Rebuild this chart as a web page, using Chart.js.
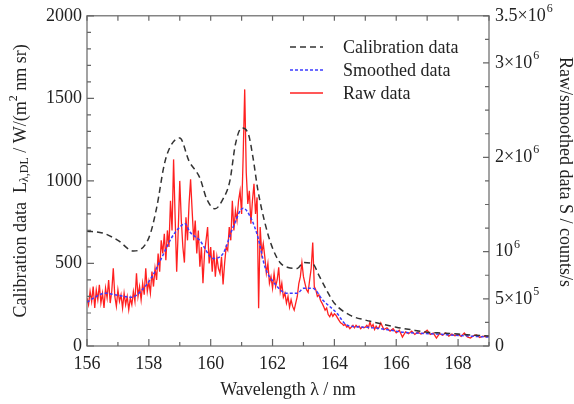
<!DOCTYPE html>
<html>
<head>
<meta charset="utf-8">
<script src="https://cdn.jsdelivr.net/npm/chart.js@4.4.1/dist/chart.umd.min.js"></script>
<style>
  html, body { margin: 0; padding: 0; background: #fff; }
  canvas { display: block; }
</style>
</head>
<body>
<canvas id="spec" width="574" height="404"></canvas>
<script>
// calibration data L (W/(m2 nm sr)), left axis
const calNm = [156, 156.5, 157, 157.5, 158, 158.25, 158.5, 158.7, 159.0, 159.3, 159.65, 159.87, 160.14, 160.4, 160.62, 160.8,
    161.0, 161.22, 161.37, 161.53, 161.76, 161.97, 162.24, 162.5, 162.8, 163.0, 163.3, 163.5, 163.8, 164.0, 164.5, 165,
    165.5, 166, 166.5, 167, 167.5, 168, 168.5, 169];
const calL = [695, 685, 640, 575, 655, 835, 1100, 1210, 1260, 1120, 1018, 891, 831, 891, 1000, 1222,
    1320, 1283, 1139, 940, 741, 608, 506, 476, 470, 505, 498, 428, 320, 259, 187, 157,
    135, 114, 98, 84, 78, 72, 66, 60];

// smoothed signal S, kcounts/s, right axis
const smoothNm = [156.0, 156.3, 156.58, 157.0, 157.44, 157.77, 158.09, 158.42, 158.74, 159.0, 159.17, 159.33, 159.65, 160.08,
    160.4, 160.72, 161.05, 161.34, 161.53, 161.76, 162.02, 162.47, 162.8, 163.0, 163.3, 163.63, 164.08, 164.4, 164.93,
    165.38, 166.22, 167.32, 168.39, 169.0];
const smoothK = [464, 525, 560, 537, 516, 590, 728, 938, 1150, 1260, 1297, 1208, 1118, 928,
    980, 1255, 1461, 1328, 1150, 833, 683, 558, 558, 611, 611, 485, 348, 222, 200,
    189, 147, 126, 105, 95];

// raw signal S, kcounts/s, right axis
const rawNm = [
    156.00, 156.05, 156.10, 156.15, 156.20, 156.25, 156.30, 156.35, 156.40, 156.45,
    156.50, 156.55, 156.60, 156.65, 156.70, 156.75, 156.80, 156.85, 156.90, 156.95,
    157.00, 157.05, 157.10, 157.15, 157.20, 157.25, 157.30, 157.35, 157.40, 157.45,
    157.50, 157.55, 157.60, 157.65, 157.70, 157.75, 157.80, 157.85, 157.90, 157.95,
    158.00, 158.05, 158.10, 158.15, 158.20, 158.25, 158.30, 158.35, 158.40, 158.45,
    158.50, 158.55, 158.60, 158.65, 158.70, 158.75, 158.80, 158.85, 158.90, 158.95,
    159.00, 159.05, 159.10, 159.15, 159.20, 159.25, 159.30, 159.35, 159.40, 159.45,
    159.50, 159.55, 159.60, 159.65, 159.70, 159.75, 159.80, 159.85, 159.90, 159.95,
    160.00, 160.05, 160.10, 160.15, 160.20, 160.25, 160.30, 160.35, 160.40, 160.45,
    160.50, 160.55, 160.60, 160.65, 160.70, 160.75, 160.80, 160.85, 160.90, 160.95,
    161.00, 161.05, 161.10, 161.15, 161.20, 161.25, 161.30, 161.35, 161.40, 161.45,
    161.50, 161.55, 161.60, 161.65, 161.70, 161.75, 161.80, 161.85, 161.90, 161.95,
    162.00, 162.05, 162.10, 162.15, 162.20, 162.25, 162.30, 162.35, 162.40, 162.45,
    162.50, 162.55, 162.60, 162.65, 162.70, 162.75, 162.80, 162.85, 162.90, 162.95,
    163.00, 163.05, 163.10, 163.15, 163.20, 163.25, 163.30, 163.35, 163.40, 163.45,
    163.50, 163.55, 163.60, 163.65, 163.70, 163.75, 163.80, 163.85, 163.90, 163.95,
    164.00, 164.05, 164.10, 164.15, 164.20, 164.25, 164.30, 164.35, 164.40, 164.45,
    164.50, 164.55, 164.60, 164.65, 164.70, 164.75, 164.80, 164.85, 164.90, 164.95,
    165.00, 165.05, 165.10, 165.15, 165.20, 165.25, 165.30, 165.35, 165.40, 165.45,
    165.50, 165.6, 165.7, 165.8, 165.9, 166.0, 166.1, 166.2, 166.3, 166.4,
    166.5, 166.6, 166.7, 166.8, 166.9, 167.0, 167.1, 167.2, 167.3, 167.4,
    167.5, 167.6, 167.7, 167.8, 167.9, 168.0, 168.1, 168.2, 168.3, 168.4,
    168.5, 168.6, 168.7, 168.8, 168.9, 169.0];
const rawK = [
    508, 438, 578, 473, 630, 403, 595, 490, 648, 455,
    560, 403, 613, 508, 700, 455, 578, 823, 525, 420,
    595, 473, 543, 403, 560, 438, 525, 385, 508, 438,
    578, 473, 770, 525, 630, 490, 665, 543, 823, 578,
    683, 560, 788, 630, 823, 700, 980, 788, 1120, 980,
    1190, 910, 1225, 1050, 1540, 1225, 1978, 1365, 788, 1225,
    1750, 1330, 1050, 884, 1365, 1120, 1505, 1768, 1435, 1120,
    1330, 980, 1225, 840, 1050, 665, 980, 1120, 1260, 875,
    1050, 788, 1015, 735, 945, 823, 770, 945, 653, 875,
    1050, 1015, 1260, 1120, 1540, 1225, 1435, 1330, 1540, 1645,
    1400, 2013, 2720, 1838, 1505, 1645, 1295, 1540, 1719, 1400,
    1575, 401, 1260, 980, 1085, 945, 770, 875, 665, 735,
    613, 770, 630, 700, 833, 578, 665, 516, 560, 455,
    525, 411, 490, 420, 380, 455, 525, 662, 735, 886,
    735, 662, 595, 569, 700, 823, 1097, 630, 595, 525,
    543, 485, 455, 420, 380, 403, 333, 310, 350, 315,
    341, 327, 298, 271, 245, 236, 219, 228, 201, 210,
    184, 201, 219, 193, 219, 201, 210, 184, 201, 193,
    200, 219, 193, 254, 201, 228, 175, 210, 184, 201,
    245, 175, 193, 158, 184, 140, 166, 95, 149, 131,
    158, 123, 149, 126, 140, 168, 123, 137, 84, 131,
    114, 140, 105, 126, 109, 123, 102, 137, 96, 84,
    109, 116, 91, 105, 96, 105];

// tick labels
const xTicks = [156, 158, 160, 162, 164, 166, 168];
const leftTicks = [0, 500, 1000, 1500, 2000];
const rightTicks = [0, 5e5, 1e6, 2e6, 3e6, 3.5e6];
const rightTickBase = ["0", "5×10", "10", "2×10", "3×10", "3.5×10"];
const rightTickExp = ["", "5", "6", "6", "6", "6"];

const serif = '"Liberation Serif", "DejaVu Serif", serif';
const ink = "#222";
const axisGray = "#666";

const legendItems = [
    { text: "Calibration data", color: "#333", dash: [6, 4], width: 1.5 },
    { text: "Smoothed data", color: "#3b3bff", dash: [3, 2], width: 1.5 },
    { text: "Raw data", color: "#ff2020", dash: [], width: 1.3 }
];

function pts(xs, ys, k) {
    return xs.map((x, i) => ({ x: x, y: ys[i] * k }));
}

// frame, inward ticks, right axis labels, titles and legend
const decor = {
    id: "decor",
    afterDraw(chart) {
        const ctx = chart.ctx;
        const a = chart.chartArea;
        const sx = chart.scales.x, sy = chart.scales.y, sy2 = chart.scales.y2;
        ctx.save();
        ctx.strokeStyle = axisGray;
        ctx.lineWidth = 1.2;
        ctx.strokeRect(a.left, a.top, a.right - a.left, a.bottom - a.top);

        ctx.beginPath();
        for (let v = 156; v <= 169; v++) {
            const px = sx.getPixelForValue(v);
            const len = v % 2 === 0 ? 7 : 4;
            ctx.moveTo(px, a.bottom); ctx.lineTo(px, a.bottom - len);
            ctx.moveTo(px, a.top); ctx.lineTo(px, a.top + 5);
        }
        for (let v = 0; v <= 2000; v += 100) {
            const py = sy.getPixelForValue(v);
            const len = v % 500 === 0 ? 7 : 4;
            ctx.moveTo(a.left, py); ctx.lineTo(a.left + len, py);
        }
        for (let v = 0; v <= 3.5e6; v += 2.5e5) {
            const py = sy2.getPixelForValue(v);
            const len = rightTicks.includes(v) ? 6 : 4;
            ctx.moveTo(a.right, py); ctx.lineTo(a.right - len, py);
        }
        ctx.stroke();

        // right axis labels with exponents
        ctx.fillStyle = ink;
        ctx.textBaseline = "middle";
        ctx.textAlign = "left";
        rightTicks.forEach((v, i) => {
            const py = sy2.getPixelForValue(v);
            const x0 = a.right + 6;
            ctx.font = "18px " + serif;
            ctx.fillText(rightTickBase[i], x0, py);
            const w = ctx.measureText(rightTickBase[i]).width;
            ctx.font = "12px " + serif;
            ctx.fillText(rightTickExp[i], x0 + w + 1, py - 7);
        });

        // x title
        ctx.font = "18px " + serif;
        ctx.textAlign = "center";
        ctx.textBaseline = "alphabetic";
        ctx.fillText("Wavelength λ / nm", (a.left + a.right) / 2, 395);

        // left title with sub/superscripts
        const parts = [
            { t: "Calibration data  L", f: "18px " + serif, dy: 0 },
            { t: "λ,DL", f: "12px " + serif, dy: 4 },
            { t: " / W/(m", f: "18px " + serif, dy: 0 },
            { t: "2", f: "12px " + serif, dy: -7 },
            { t: " nm sr)", f: "18px " + serif, dy: 0 }
        ];
        let total = 0;
        parts.forEach(p => { ctx.font = p.f; p.w = ctx.measureText(p.t).width; total += p.w; });
        ctx.save();
        ctx.translate(21, (a.top + a.bottom) / 2);
        ctx.rotate(-Math.PI / 2);
        ctx.textAlign = "left";
        ctx.textBaseline = "middle";
        let cx = -total / 2;
        parts.forEach(p => { ctx.font = p.f; ctx.fillText(p.t, cx, p.dy); cx += p.w; });
        ctx.restore();

        // right title
        ctx.save();
        ctx.translate(565, 172);
        ctx.rotate(Math.PI / 2);
        ctx.font = "18px " + serif;
        ctx.textAlign = "center";
        ctx.textBaseline = "middle";
        ctx.fillText("Raw/smoothed data S / counts/s", 0, 0);
        ctx.restore();

        // legend
        legendItems.forEach((it, i) => {
            const ly = 47 + i * 23;
            ctx.beginPath();
            ctx.setLineDash(it.dash);
            ctx.strokeStyle = it.color;
            ctx.lineWidth = it.width;
            ctx.moveTo(290, ly); ctx.lineTo(323, ly);
            ctx.stroke();
            ctx.setLineDash([]);
            ctx.font = "18px " + serif;
            ctx.textAlign = "left";
            ctx.textBaseline = "alphabetic";
            ctx.fillStyle = ink;
            ctx.fillText(it.text, 343, ly + 6);
        });
        ctx.restore();
    }
};

const ctx = document.getElementById("spec").getContext("2d");
new Chart(ctx, {
    type: "line",
    data: {
        datasets: [
            {
                label: "Calibration data",
                data: pts(calNm, calL, 1),
                yAxisID: "y",
                borderColor: "#333",
                borderDash: [6, 4],
                borderWidth: 1.5,
                cubicInterpolationMode: "monotone",
                pointRadius: 0
            },
            {
                label: "Smoothed data",
                data: pts(smoothNm, smoothK, 1000),
                yAxisID: "y2",
                borderColor: "#3b3bff",
                borderDash: [3, 2],
                borderWidth: 1.5,
                cubicInterpolationMode: "monotone",
                pointRadius: 0
            },
            {
                label: "Raw data",
                data: pts(rawNm, rawK, 1000),
                yAxisID: "y2",
                borderColor: "#ff2020",
                borderWidth: 1.3,
                tension: 0,
                pointRadius: 0
            }
        ]
    },
    options: {
        responsive: false,
        animation: false,
        layout: { padding: { top: 14, left: 0, right: 0, bottom: 0 } },
        plugins: { legend: { display: false }, tooltip: { enabled: false } },
        scales: {
            x: {
                type: "linear",
                position: "bottom",
                min: 156,
                max: 169,
                afterBuildTicks: s => { s.ticks = xTicks.map(v => ({ value: v })); },
                afterFit: s => { s.height = 58; },
                grid: { display: false, drawTicks: false },
                border: { display: false },
                ticks: { padding: 7, color: ink, font: { family: serif, size: 18 }, maxRotation: 0, autoSkip: false,
                    callback: v => String(v) }
            },
            y: {
                position: "left",
                min: 0,
                max: 2000,
                afterBuildTicks: s => { s.ticks = leftTicks.map(v => ({ value: v })); },
                afterFit: s => { s.width = 87; },
                grid: { display: false, drawTicks: false },
                border: { display: false },
                ticks: { padding: 5, color: ink, font: { family: serif, size: 18 }, callback: v => String(v) }
            },
            y2: {
                position: "right",
                min: 0,
                max: 3.5e6,
                afterFit: s => { s.width = 85; },
                grid: { display: false, drawTicks: false },
                border: { display: false },
                ticks: { display: false }
            }
        }
    },
    plugins: [decor]
});
</script>
</body>
</html>
